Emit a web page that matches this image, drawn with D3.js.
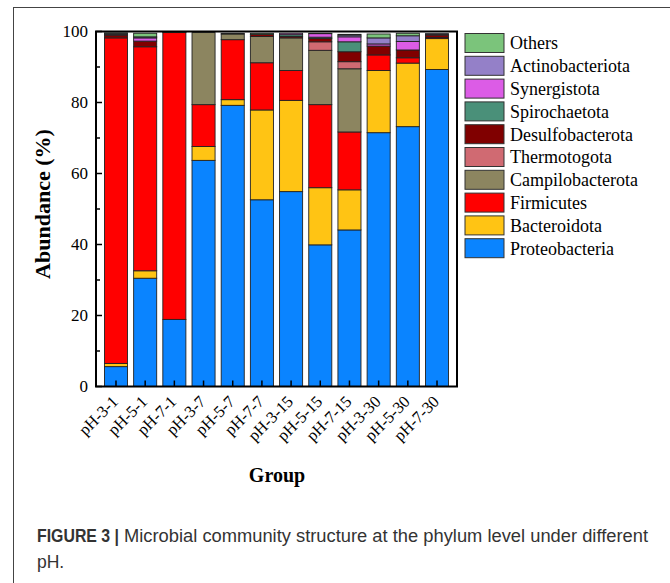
<!DOCTYPE html>
<html>
<head>
<meta charset="utf-8">
<script src="https://cdn.jsdelivr.net/npm/d3@7"></script>
<style>
  body { margin: 0; background: #fff; }
  svg { display: block; }
</style>
</head>
<body>
<svg id="chart" width="670" height="583"></svg>
<script>
// sample groups
const groups = ['pH-3-1', 'pH-5-1', 'pH-7-1', 'pH-3-7', 'pH-5-7', 'pH-7-7',
  'pH-3-15', 'pH-5-15', 'pH-7-15', 'pH-3-30', 'pH-5-30', 'pH-7-30'];

// phyla, bottom to top of stack
const phyla = ['Proteobacteria', 'Bacteroidota', 'Firmicutes', 'Campilobacterota',
  'Thermotogota', 'Desulfobacterota', 'Spirochaetota', 'Synergistota',
  'Actinobacteriota', 'Others'];

const colors = ['#0a84ff', '#ffc414', '#ff0000', '#8c8560',
  '#d06a72', '#800000', '#4a9079', '#dc5ce6', '#9480c8', '#7bc47b'];

// relative abundance (%) per group, one array per phylum
const proteobacteria   = [5.6, 30.5, 18.9, 63.7, 79.2, 52.6, 54.9, 39.9, 44.1, 71.5, 73.2, 89.3];
const bacteroidota     = [0.9, 2.1, 0, 3.9, 1.6, 25.3, 25.7, 16.1, 11.3, 17.5, 17.9, 8.7];
const firmicutes       = [91.7, 63.1, 80.8, 11.8, 16.9, 13.3, 8.4, 23.4, 16.3, 4.4, 1.5, 0.3];
const campilobacterota = [0, 0, 0, 20.3, 1.6, 7.4, 9.2, 15.3, 17.8, 0, 0, 0];
const thermotogota     = [0, 0, 0, 0, 0, 0, 0, 2.4, 2.0, 0, 0, 0];
const desulfobacterota = [0.8, 1.6, 0, 0, 0.2, 0.6, 0.4, 0.9, 2.8, 2.5, 2.2, 0.7];
const spirochaetota    = [0.2, 0, 0, 0, 0, 0, 0.5, 0.4, 2.8, 0, 0, 0];
const synergistota     = [0, 0.9, 0, 0, 0, 0, 0.4, 1.0, 1.4, 0.6, 2.4, 0.2];
const actinobacteriota = [0.3, 0.3, 0, 0, 0, 0, 0, 0.1, 0.5, 1.7, 1.6, 0.2];
const others           = [0.1, 1.0, 0.3, 0, 0, 0.3, 0, 0, 0.2, 1.1, 0.7, 0];

const series = [proteobacteria, bacteroidota, firmicutes, campilobacterota, thermotogota,
  desulfobacterota, spirochaetota, synergistota, actinobacteriota, others];

const yTicks = [0, 20, 40, 60, 80, 100];

// build table for d3.stack
const rows = groups.map((g, i) => {
  const r = { group: g };
  phyla.forEach((p, j) => { r[p] = series[j][i]; });
  return r;
});

const svg = d3.select('#chart');
const serif = '"Liberation Serif", "Times New Roman", serif';
const sans = '"Liberation Sans", Arial, sans-serif';

// figure frame
svg.append('rect')
  .attr('x', 13.5).attr('y', 7.5)
  .attr('width', 700).attr('height', 600)
  .attr('fill', 'none').attr('stroke', '#444').attr('stroke-width', 1);

const mLeft = 96, mRight = 457, mTop = 31.5, mBottom = 386.5;

const x = d3.scaleBand()
  .domain(groups)
  .range([mLeft, mRight])
  .paddingInner(0.21)
  .paddingOuter(0.29);

const y = d3.scaleLinear()
  .domain([0, 100])
  .range([mBottom, mTop]);

const stack = d3.stack().keys(phyla);
const stacked = stack(rows);

// bars
svg.append('g')
  .selectAll('g')
  .data(stacked)
  .join('g')
  .attr('fill', (d, i) => colors[i])
  .selectAll('rect')
  .data(d => d.filter(s => s[1] - s[0] > 0))
  .join('rect')
  .attr('x', d => x(d.data.group))
  .attr('y', d => y(d[1]))
  .attr('width', x.bandwidth())
  .attr('height', d => y(d[0]) - y(d[1]))
  .attr('stroke', '#222')
  .attr('stroke-width', 0.9);

// y axis ticks (inside) incl. minor
const yMinor = d3.range(0, 101, 10);
svg.append('g')
  .selectAll('line')
  .data(yMinor)
  .join('line')
  .attr('x1', mLeft).attr('x2', d => mLeft + (d % 20 === 0 ? 6 : 4))
  .attr('y1', d => y(d)).attr('y2', d => y(d))
  .attr('stroke', '#000').attr('stroke-width', 1.5);

svg.append('g')
  .selectAll('text')
  .data(yTicks)
  .join('text')
  .attr('x', mLeft - 8)
  .attr('y', d => y(d))
  .attr('dy', '0.35em')
  .attr('text-anchor', 'end')
  .attr('font-family', serif)
  .attr('font-size', 17)
  .text(d => d);

// x ticks (inside)
svg.append('g')
  .selectAll('line')
  .data(groups)
  .join('line')
  .attr('x1', d => x(d) + x.bandwidth() / 2)
  .attr('x2', d => x(d) + x.bandwidth() / 2)
  .attr('y1', mBottom).attr('y2', mBottom - 6)
  .attr('stroke', '#000').attr('stroke-width', 1.5);

svg.append('g')
  .selectAll('text')
  .data(groups)
  .join('text')
  .attr('transform', d => `translate(${x(d) + x.bandwidth() / 2 - 1},${mBottom + 12}) rotate(-45)`)
  .attr('text-anchor', 'end')
  .attr('dy', '0.35em')
  .attr('font-family', serif)
  .attr('font-size', 16.5)
  .text(d => d);

// plot box
svg.append('rect')
  .attr('x', mLeft).attr('y', mTop)
  .attr('width', mRight - mLeft).attr('height', mBottom - mTop)
  .attr('fill', 'none').attr('stroke', '#000').attr('stroke-width', 2);

// axis titles
svg.append('text')
  .attr('transform', 'translate(50,204) rotate(-90)')
  .attr('text-anchor', 'middle')
  .attr('font-family', serif)
  .attr('font-weight', 'bold')
  .attr('font-size', 22)
  .text('Abundance (%)');

svg.append('text')
  .attr('x', 277).attr('y', 482)
  .attr('text-anchor', 'middle')
  .attr('font-family', serif)
  .attr('font-weight', 'bold')
  .attr('font-size', 20)
  .text('Group');

// legend, top entry = last phylum
const legend = svg.append('g')
  .selectAll('g')
  .data(phyla.map((p, i) => ({ name: p, color: colors[i] })).reverse())
  .join('g')
  .attr('transform', (d, i) => `translate(465,${43 + i * 22.8})`);

legend.append('rect')
  .attr('x', 0).attr('y', -9.5)
  .attr('width', 39).attr('height', 19)
  .attr('fill', d => d.color)
  .attr('stroke', '#333').attr('stroke-width', 1);

legend.append('text')
  .attr('x', 45).attr('dy', '0.35em')
  .attr('font-family', serif)
  .attr('font-size', 18)
  .text(d => d.name);

// caption
svg.append('text')
  .attr('x', 37).attr('y', 542)
  .attr('font-family', sans)
  .attr('font-size', 17.5)
  .attr('font-weight', 'bold')
  .attr('fill', '#333')
  .attr('textLength', 82).attr('lengthAdjust', 'spacingAndGlyphs')
  .text('FIGURE 3 |');

svg.append('text')
  .attr('x', 124).attr('y', 542)
  .attr('font-family', sans)
  .attr('font-size', 17.5)
  .attr('fill', '#333')
  .attr('textLength', 524).attr('lengthAdjust', 'spacingAndGlyphs')
  .text('Microbial community structure at the phylum level under different');

svg.append('text')
  .attr('x', 37).attr('y', 568)
  .attr('font-family', sans)
  .attr('font-size', 17.5)
  .attr('fill', '#333')
  .text('pH.');
</script>
</body>
</html>
